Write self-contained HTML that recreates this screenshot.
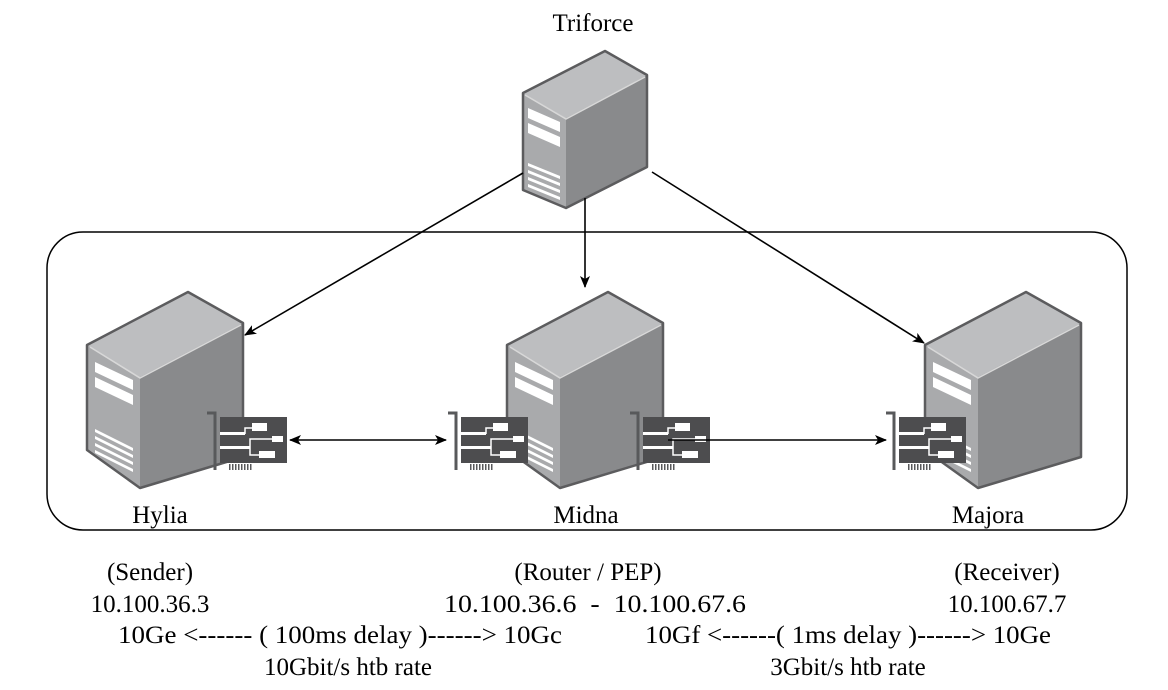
<!DOCTYPE html>
<html><head><meta charset="utf-8"><style>
html,body{margin:0;padding:0;background:#fff}
svg{display:block}
text{font-family:"Liberation Serif",serif;font-size:25px;fill:#000}
</style></head><body>
<svg width="1168" height="690" viewBox="0 0 1168 690" xmlns="http://www.w3.org/2000/svg">
<defs>
<marker id="ah" markerWidth="12" markerHeight="10" refX="11" refY="5" orient="auto" markerUnits="userSpaceOnUse">
<path d="M0,0 L12,5 L0,10 L3,5 Z" fill="#000"/></marker>
<marker id="as" markerWidth="12" markerHeight="10" refX="1" refY="5" orient="auto" markerUnits="userSpaceOnUse">
<path d="M12,0 L0,5 L12,10 L9,5 Z" fill="#000"/></marker>
<g id="srv">
<polygon points="0,53 101,0 156,31 53,85" fill="#bdbec0"/>
<polygon points="53,85 156,31 156,165 53,196" fill="#898a8c"/>
<polygon points="0,53 53,85 53,196 0,158" fill="#a9aaac"/>
<polyline points="3,55 53,86 154,33" fill="none" stroke="#d8d8d8" stroke-width="1.5"/>
<polygon points="0,53 101,0 156,31 156,165 53,196 0,158" fill="none" stroke="#5c5c5e" stroke-width="2.5" stroke-linejoin="round"/>
<polygon points="8,70 46,88 46,98 8,80" fill="#fff"/>
<polygon points="8,85 46,103 46,113 8,95" fill="#fff"/>
<polygon points="8,137 46,156 46,159 8,140" fill="#fff"/>
<polygon points="8,144 46,163 46,166 8,147" fill="#fff"/>
<polygon points="8,151 46,170 46,173 8,154" fill="#fff"/>
<polygon points="8,158 46,177 46,180 8,161" fill="#fff"/>
</g>
<g id="nic">
<path d="M-7,1 H1 V58" fill="none" stroke="#58595b" stroke-width="3"/>
<rect x="6" y="5" width="67" height="46" fill="#4d4d4f"/>
<rect x="6" y="20" width="25" height="3" fill="#fff"/>
<rect x="6" y="34" width="30" height="3" fill="#fff"/>
<path d="M31,22 V16 H38" fill="none" stroke="#fff" stroke-width="1.5"/>
<rect x="38" y="11" width="15" height="8" fill="#fff"/>
<path d="M36,36 V27 H58 M36,36 V43 H45" fill="none" stroke="#fff" stroke-width="1.5"/>
<rect x="58" y="24" width="11" height="6" fill="#fff"/>
<rect x="45" y="39" width="16" height="7" fill="#fff"/>
<g fill="#58595b"><rect x="15" y="52" width="1.5" height="6"/><rect x="18" y="52" width="1.5" height="6"/><rect x="21" y="52" width="1.5" height="6"/><rect x="24" y="52" width="1.5" height="6"/><rect x="27" y="52" width="1.5" height="6"/><rect x="30" y="52" width="1.5" height="6"/><rect x="33" y="52" width="1.5" height="6"/><rect x="36" y="52" width="1.5" height="6"/></g>
</g>
</defs>

<rect x="47" y="232" width="1080" height="298" rx="36" fill="none" stroke="#000" stroke-width="1.5"/>

<!-- Triforce -->
<g>
<polygon points="523,93 605,51 647,75 566,118" fill="#bdbec0"/>
<polygon points="566,118 647,75 647,167 566,208" fill="#898a8c"/>
<polygon points="523,93 566,118 566,208 523,190" fill="#a9aaac"/>
<polyline points="525,95 566,119 645,77" fill="none" stroke="#d8d8d8" stroke-width="1.5"/>
<polygon points="523,93 605,51 647,75 647,167 566,208 523,190" fill="none" stroke="#5c5c5e" stroke-width="2.5" stroke-linejoin="round"/>
<polygon points="528,108 560,122 560,132 528,118" fill="#fff"/>
<polygon points="528,123 560,137 560,147 528,133" fill="#fff"/>
<polygon points="528,163 560,176 560,179 528,166" fill="#fff"/>
<polygon points="528,170 560,183 560,186 528,173" fill="#fff"/>
<polygon points="528,177 560,190 560,193 528,180" fill="#fff"/>
<polygon points="528,184 560,197 560,200 528,187" fill="#fff"/>
</g>

<use href="#srv" x="87" y="292"/>
<use href="#srv" x="507" y="292"/>
<use href="#srv" x="925" y="292"/>

<use href="#nic" x="214" y="412"/>
<use href="#nic" x="455" y="412"/>
<use href="#nic" x="637" y="412"/>
<use href="#nic" x="893" y="412"/>

<g stroke="#000" stroke-width="1.6" fill="none">
<line x1="523" y1="173" x2="245" y2="335" marker-end="url(#ah)"/>
<line x1="585" y1="198" x2="585" y2="287" marker-end="url(#ah)"/>
<line x1="652" y1="172" x2="924" y2="343" marker-end="url(#ah)"/>
<line x1="290" y1="440" x2="446" y2="440" marker-start="url(#as)" marker-end="url(#ah)"/>
<line x1="668" y1="440" x2="886" y2="440" marker-end="url(#ah)"/>
</g>

<g text-anchor="middle">
<text x="593" y="31">Triforce</text>
<text x="160" y="523">Hylia</text>
<text x="586" y="523">Midna</text>
<text x="988" y="523">Majora</text>
<text x="150" y="580">(Sender)</text>
<text x="588" y="580">(Router / PEP)</text>
<text x="1007" y="580">(Receiver)</text>
<text x="150" y="612">10.100.36.3</text>
<text x="595" y="612" textLength="302" lengthAdjust="spacingAndGlyphs" xml:space="preserve">10.100.36.6  -  10.100.67.6</text>
<text x="1007" y="612">10.100.67.7</text>
<text x="340" y="643" textLength="444" lengthAdjust="spacingAndGlyphs">10Ge &lt;------ ( 100ms delay )------&gt; 10Gc</text>
<text x="848" y="643" textLength="406" lengthAdjust="spacingAndGlyphs">10Gf &lt;------( 1ms delay )------&gt; 10Ge</text>
<text x="348" y="675">10Gbit/s htb rate</text>
<text x="848" y="675">3Gbit/s htb rate</text>
</g>
</svg>
</body></html>
